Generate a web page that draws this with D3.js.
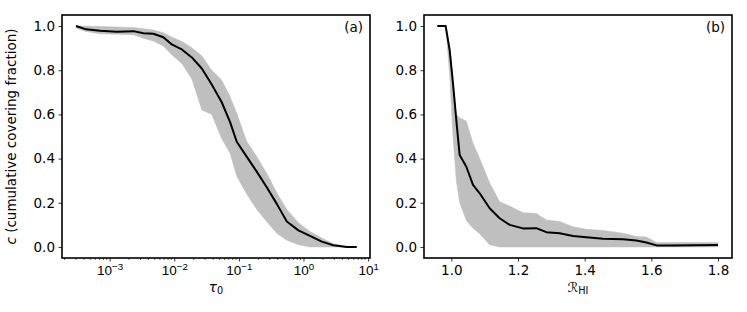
<!DOCTYPE html>
<html><head><meta charset="utf-8">
<script src="https://cdn.jsdelivr.net/npm/d3@7"></script>
<style>
body{margin:0;background:#fff;}
svg{display:block;font-family:"DejaVu Sans",sans-serif;}
</style></head>
<body><svg id="c" width="747" height="312"></svg>
<script>
// Panel (a): tau_0 grid, median and band
const tauA = [3.02e-4,4.32e-4,7.10e-4,1.29e-3,2.33e-3,3.33e-3,4.74e-3,6.78e-3,9.14e-3,1.31e-2,1.87e-2,2.67e-2,3.80e-2,5.43e-2,7.31e-2,9.27e-2,0.132,0.189,0.270,0.386,0.552,0.834,1.26,1.92,2.90,4.68,6.68];
const medA  = [1.0,0.985,0.979,0.974,0.977,0.967,0.965,0.949,0.917,0.894,0.858,0.808,0.735,0.655,0.565,0.476,0.409,0.341,0.270,0.195,0.115,0.075,0.050,0.024,0.008,0.0,0.0];
const upA   = [1.0,1.0,0.998,0.996,0.993,0.988,0.982,0.970,0.950,0.930,0.902,0.865,0.800,0.755,0.680,0.605,0.478,0.409,0.333,0.245,0.170,0.110,0.070,0.040,0.015,0.002,0.0];
const loA   = [0.99,0.975,0.965,0.963,0.961,0.945,0.932,0.910,0.870,0.830,0.760,0.620,0.600,0.490,0.424,0.320,0.240,0.170,0.114,0.062,0.030,0.010,0.0,0.0,0.0,0.0,0.0];
// Panel (b): R_HI grid, median and band
const rB   = [0.958,0.983,0.995,1.005,1.015,1.025,1.045,1.065,1.085,1.115,1.145,1.175,1.215,1.255,1.285,1.325,1.365,1.405,1.455,1.515,1.555,1.585,1.616,1.656,1.80];
const medB = [1.0,1.0,0.891,0.740,0.573,0.416,0.363,0.281,0.243,0.175,0.130,0.100,0.084,0.085,0.067,0.062,0.050,0.044,0.037,0.035,0.029,0.020,0.007,0.007,0.009];
const upB  = [1.0,1.0,0.900,0.760,0.600,0.585,0.570,0.470,0.400,0.290,0.205,0.185,0.155,0.152,0.122,0.115,0.092,0.080,0.075,0.062,0.047,0.045,0.020,0.020,0.020];
const loB  = [1.0,1.0,0.780,0.500,0.300,0.200,0.120,0.085,0.060,0.010,0.0,0.0,0.0,0.0,0.0,0.0,0.0,0.0,0.0,0.0,0.0,0.0,0.0,0.0,0.0];
// ticks / limits
const yTicks = [0,0.2,0.4,0.6,0.8,1.0];
const xTicksA = [1e-3,1e-2,1e-1,1e0,1e1];
const xTickExpA = ["−3","−2","−1","0","1"];
const xTicksB = [1.0,1.2,1.4,1.6,1.8];
const xLimA = [1.83e-4, 10.7];
const xLimB = [0.918, 1.842];
const yLim = [-0.05, 1.05];

const svg = d3.select("#c");
const FS = 13.5;
const plotTop = 15, plotBottom = 258;
const y = d3.scaleLinear().domain(yLim).range([plotBottom, plotTop]);

function panel(opts){
  const {x, xs, med, up, lo, left, right, label} = opts;
  const g = svg.append("g");
  const band = d3.area().x((d,i)=>x(xs[i])).y0((d,i)=>y(lo[i])).y1((d,i)=>y(up[i]));
  g.append("path").datum(xs).attr("d", band).attr("fill","#bfbfbf").attr("stroke","#bfbfbf").attr("stroke-width",0.5);
  const line = d3.line().x((d,i)=>x(xs[i])).y((d,i)=>y(med[i]));
  g.append("path").datum(xs).attr("d", line).attr("fill","none").attr("stroke","#000").attr("stroke-width",2).attr("stroke-linejoin","round");
  const ya = g.append("g").attr("transform",`translate(${left},0)`)
    .call(d3.axisLeft(y).tickValues(yTicks).tickFormat(d3.format(".1f")).tickSize(3.5).tickPadding(3.5));
  ya.select(".domain").remove();
  ya.selectAll("line").attr("stroke-width",0.8);
  ya.selectAll("text").attr("font-size",FS).attr("font-family","DejaVu Sans").attr("fill","#000");
  g.append("rect").attr("x",left).attr("y",plotTop).attr("width",right-left).attr("height",plotBottom-plotTop)
    .attr("fill","none").attr("stroke","#000").attr("stroke-width",1.6);
  g.append("text").attr("x",right-7).attr("y",32).attr("text-anchor","end").attr("font-size",FS).text(label);
  return g;
}

// Panel a
const xA = d3.scaleLog().domain(xLimA).range([62,370]);
const gA = panel({x:xA, xs:tauA, med:medA, up:upA, lo:loA, left:62, right:370, label:"(a)"});
const xaA = gA.append("g").attr("transform",`translate(0,${plotBottom})`)
  .call(d3.axisBottom(xA).tickValues(xTicksA).tickFormat("").tickSize(3.5).tickPadding(3.5));
xaA.select(".domain").remove();
xaA.selectAll("line").attr("stroke-width",0.8);
xaA.selectAll(".tick text").attr("font-size",FS).attr("fill","#000").attr("dy","0.71em")
  .each(function(d,i){
    const t = d3.select(this);
    t.append("tspan").text("10");
    t.append("tspan").attr("dy","-0.45em").attr("font-size",FS*0.72).text(xTickExpA[i]);
  });
const minors = [];
for (let e=-4; e<=1; e++) for (let k=2;k<=9;k++){ const v=k*Math.pow(10,e); if (v>xLimA[0] && v<xLimA[1]) minors.push(v); }
gA.append("g").attr("transform",`translate(0,${plotBottom})`).selectAll("line").data(minors).join("line")
  .attr("x1",d=>xA(d)).attr("x2",d=>xA(d)).attr("y1",0).attr("y2",2).attr("stroke","#000").attr("stroke-width",0.6);
const ylab = svg.append("text").attr("transform",`translate(16,136.5) rotate(-90)`).attr("text-anchor","middle").attr("font-size",FS);
ylab.append("tspan").attr("font-style","italic").text("c");
ylab.append("tspan").text(" (cumulative covering fraction)");
const xlabA = svg.append("text").attr("x",216).attr("y",292).attr("text-anchor","middle").attr("font-size",FS);
xlabA.append("tspan").attr("font-style","italic").text("τ");
xlabA.append("tspan").attr("dy","0.25em").attr("font-size",FS*0.72).text("0");

// Panel b
const xB = d3.scaleLinear().domain(xLimB).range([424,732]);
const gB = panel({x:xB, xs:rB, med:medB, up:upB, lo:loB, left:424, right:732, label:"(b)"});
const xaB = gB.append("g").attr("transform",`translate(0,${plotBottom})`)
  .call(d3.axisBottom(xB).tickValues(xTicksB).tickFormat(d3.format(".1f")).tickSize(3.5).tickPadding(3.5));
xaB.select(".domain").remove();
xaB.selectAll("line").attr("stroke-width",0.8);
xaB.selectAll("text").attr("font-size",FS).attr("font-family","DejaVu Sans").attr("fill","#000");
const xlabB = svg.append("text").attr("x",578).attr("y",292).attr("text-anchor","middle").attr("font-size",FS);
xlabB.append("tspan").attr("font-family","DejaVu Sans").text("ℛ");
xlabB.append("tspan").attr("dy","0.25em").attr("font-size",FS*0.72).text("HI");
</script></body></html>
